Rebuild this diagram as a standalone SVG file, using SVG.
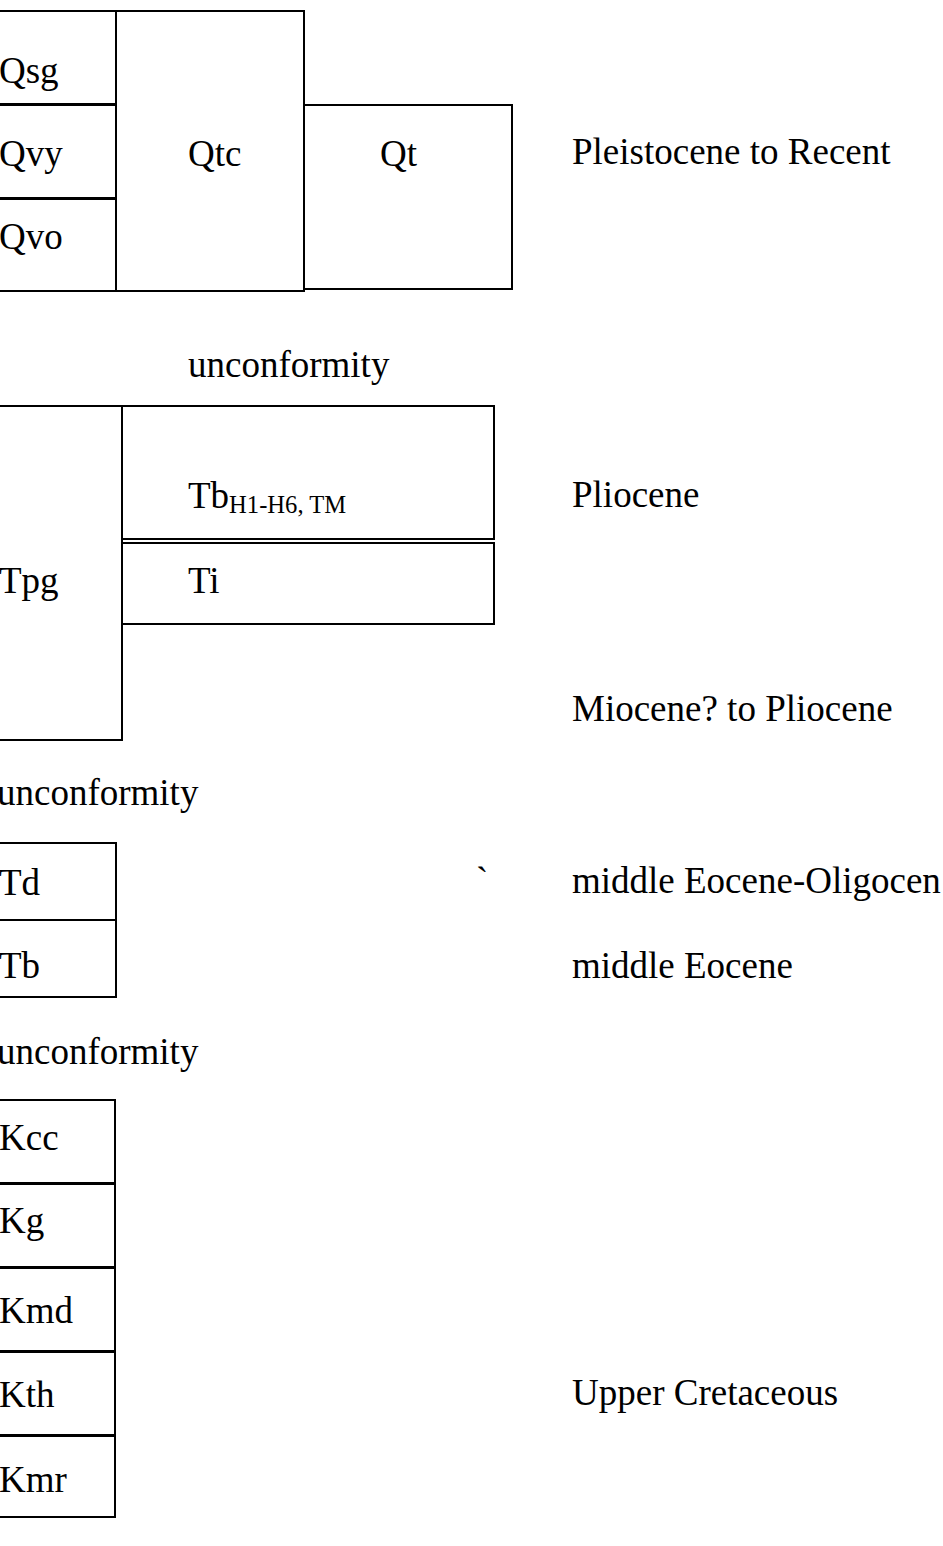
<svg xmlns="http://www.w3.org/2000/svg" width="943" height="1546" viewBox="0 0 943 1546">
<style>
.b{fill:#fff;stroke:#000;stroke-width:2}
.t{font-family:"Liberation Serif","Times New Roman",serif;font-size:37px;fill:#000}
.s{font-size:24.6px}
</style>
<rect x="0" y="0" width="943" height="1546" fill="#fff"/>
<g id="Qsg"><rect class="b" x="-10" y="11" width="126" height="93"/><text class="t" x="-1" y="83">Qsg</text></g>
<g id="Qvy"><rect class="b" x="-10" y="105" width="126" height="93"/><text class="t" x="-1" y="166">Qvy</text></g>
<g id="Qvo"><rect class="b" x="-10" y="199" width="126" height="92"/><text class="t" x="-1" y="249">Qvo</text></g>
<g id="Qtc"><rect class="b" x="116" y="11" width="188" height="280"/><text class="t" x="188" y="166">Qtc</text></g>
<g id="Qt"><rect class="b" x="304" y="105" width="208" height="184"/><text class="t" x="380" y="166">Qt</text></g>
<g id="age1"><text class="t" x="572" y="164">Pleistocene to Recent</text></g>
<g id="unc1"><text class="t" x="188" y="377">unconformity</text></g>
<g id="Tpg"><rect class="b" x="-10" y="406" width="132" height="334"/><text class="t" x="-1" y="593">Tpg</text></g>
<g id="Tb1"><rect class="b" x="122" y="406" width="372" height="133"/><text class="t" x="188" y="508">Tb<tspan class="s" dy="5">H1-H6, TM</tspan></text></g>
<g id="Ti"><rect class="b" x="122" y="543" width="372" height="81"/><text class="t" x="188" y="593">Ti</text></g>
<g id="age2"><text class="t" x="572" y="507">Pliocene</text></g>
<g id="age3"><text class="t" x="572" y="721">Miocene? to Pliocene</text></g>
<g id="unc2"><text class="t" x="-3" y="805">unconformity</text></g>
<g id="Td"><rect class="b" x="-10" y="843" width="126" height="77"/><text class="t" x="-1" y="895">Td</text></g>
<g id="Tb"><rect class="b" x="-10" y="920" width="126" height="77"/><text class="t" x="-1" y="978">Tb</text></g>
<g id="tick"><text class="t" x="476" y="893">`</text></g>
<g id="age4"><text class="t" x="572" y="893">middle Eocene-Oligocen</text></g>
<g id="age5"><text class="t" x="572" y="978">middle Eocene</text></g>
<g id="unc3"><text class="t" x="-3" y="1064">unconformity</text></g>
<g id="Kcc"><rect class="b" x="-10" y="1100" width="125" height="83"/><text class="t" x="-1" y="1150">Kcc</text></g>
<g id="Kg"><rect class="b" x="-10" y="1184" width="125" height="83"/><text class="t" x="-1" y="1233">Kg</text></g>
<g id="Kmd"><rect class="b" x="-10" y="1268" width="125" height="83"/><text class="t" x="-1" y="1323">Kmd</text></g>
<g id="Kth"><rect class="b" x="-10" y="1352" width="125" height="83"/><text class="t" x="-1" y="1407">Kth</text></g>
<g id="Kmr"><rect class="b" x="-10" y="1436" width="125" height="81"/><text class="t" x="-1" y="1492">Kmr</text></g>
<g id="age6"><text class="t" x="572" y="1405">Upper Cretaceous</text></g>
<g id="connectors"></g>
</svg>
